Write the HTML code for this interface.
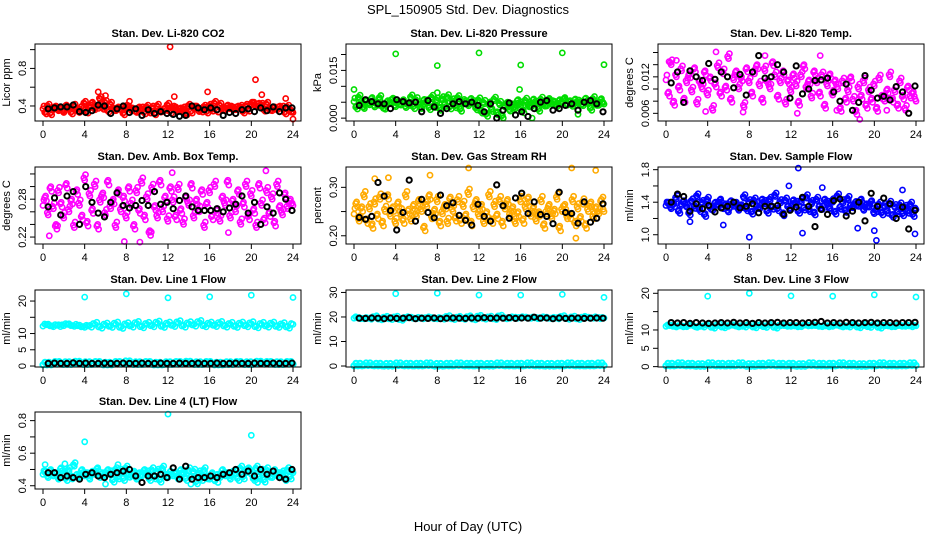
<!DOCTYPE html>
<html><head><meta charset="utf-8"><style>
html,body{margin:0;padding:0;background:#fff}
svg{display:block;font-family:"Liberation Sans",Arial,sans-serif}
</style></head><body>
<svg id="c" width="936" height="540" viewBox="0 0 936 540">
<text x="468" y="14" font-size="13" text-anchor="middle">SPL_150905  Std. Dev. Diagnostics</text>
<text x="468" y="531" font-size="13" text-anchor="middle">Hour of Day (UTC)</text>
</svg>
<script>
const hourTicks=[0,4,8,12,16,20,24];
const co2Cloud=[0.37,0.34,0.39,0.33,0.36,0.40,0.35,0.38,0.33,0.41,0.36,0.34,0.39,0.37,0.33,0.40,0.42,0.35,0.38,0.44,0.36,0.40,0.47,0.39,0.43,0.36,0.41,0.38,0.35,0.39,0.36,0.33,0.38,0.40,0.35,0.37,0.33,0.39,0.36,0.34,0.38,0.35,0.37,0.33,0.39,0.36,0.34,0.38,0.40,0.35,0.37,0.39,0.34,0.38,0.36,0.33,0.39,0.35,0.37,0.40,0.34,0.36,0.38,0.35,0.39,0.37,0.42,0.36,0.40,0.38,0.35,0.41,0.37,0.39,0.36,0.40,0.38,0.35,0.39,0.37,0.41,0.44,0.39,0.43,0.40,0.37,0.41,0.38,0.35,0.39,0.36,0.40,0.37,0.34,0.38,0.36,0.33];
const co2Black=[0.37,0.38,0.39,0.39,0.41,0.34,0.33,0.35,0.41,0.40,0.32,0.37,0.40,0.33,0.37,0.30,0.36,0.32,0.34,0.32,0.31,0.29,0.30,0.40,0.38,0.36,0.38,0.36,0.30,0.33,0.32,0.36,0.37,0.34,0.38,0.35,0.39,0.34,0.38,0.38];
const co2Out=[[12.2,1.03],[20.4,0.68],[5.3,0.55],[15.8,0.55],[12.6,0.50],[24,0.26],[21,0.52],[6,0.51],[8.3,0.45],[23.3,0.48]];
const pressCloud=[0.0052,0.0038,0.0061,0.0045,0.0030,0.0056,0.0042,0.0065,0.0035,0.0050,0.0060,0.0040,0.0028,0.0055,0.0047,0.0063,0.0036,0.0052,0.0041,0.0058,0.0033,0.0049,0.0062,0.0039,0.0054,0.0044,0.0030,0.0059,0.0047,0.0036,0.0061,0.0043,0.0052,0.0034,0.0057,0.0046,0.0063,0.0038,0.0050,0.0042,0.0060,0.0031,0.0048,0.0055,0.0039,0.0062,0.0044,0.0035,0.0053,0.0025,0.0045,0.0015,0.0040,0.0030,0.0055,0.0020,0.0042,0.0010,0.0035,0.0050,0.0022,0.0045,0.0030,0.0058,0.0040,0.0026,0.0052,0.0045,0.0035,0.0060,0.0042,0.0031,0.0055,0.0047,0.0038,0.0062,0.0044,0.0053,0.0036,0.0058,0.0048,0.0065,0.0041,0.0055,0.0037,0.0060,0.0046,0.0052,0.0039,0.0063,0.0045,0.0034,0.0057,0.0049,0.0040,0.0061,0.0044];
const pressBlack=[0.0040,0.0058,0.0052,0.0045,0.0045,0.0030,0.0058,0.0052,0.0048,0.0050,0.0020,0.0055,0.0035,0.0015,0.0030,0.0045,0.0052,0.0045,0.0050,0.0040,0.0020,0.0045,0.0000,0.0025,0.0048,0.0010,0.0020,0.0005,0.0030,0.0050,0.0055,0.0025,0.0030,0.0040,0.0045,0.0025,0.0050,0.0055,0.0045,0.0020];
const pressOut=[[4,0.0202],[12,0.0205],[20,0.0205],[8,0.0165],[16,0.0167],[24,0.0168],[0,0.0090],[8,0.0080],[15.9,0.0090],[17.1,0.0000],[21.5,0.0012]];
const tempCloud=[0.0115,0.0095,0.0140,0.0080,0.0120,0.0105,0.0130,0.0085,0.0110,0.0125,0.0095,0.0135,0.0075,0.0115,0.0100,0.0130,0.0090,0.0120,0.0065,0.0110,0.0135,0.0095,0.0125,0.0105,0.0150,0.0085,0.0115,0.0130,0.0100,0.0120,0.0070,0.0135,0.0110,0.0095,0.0125,0.0140,0.0105,0.0085,0.0130,0.0115,0.0100,0.0145,0.0120,0.0090,0.0110,0.0130,0.0075,0.0115,0.0095,0.0125,0.0105,0.0080,0.0120,0.0140,0.0100,0.0115,0.0085,0.0130,0.0110,0.0095,0.0120,0.0075,0.0105,0.0125,0.0090,0.0115,0.0100,0.0070,0.0110,0.0085,0.0095,0.0120,0.0080,0.0065,0.0100,0.0090,0.0110,0.0075,0.0095,0.0085,0.0105,0.0070,0.0115,0.0090,0.0080,0.0100,0.0120,0.0085,0.0095,0.0075,0.0110,0.0090,0.0065,0.0105,0.0085,0.0095,0.0080];
const tempBlack=[0.0110,0.0128,0.0078,0.0130,0.0120,0.0114,0.0142,0.0116,0.0128,0.0120,0.0102,0.0124,0.0090,0.0128,0.0155,0.0118,0.0120,0.0140,0.0128,0.0085,0.0138,0.0092,0.0100,0.0114,0.0115,0.0118,0.0095,0.0080,0.0108,0.0065,0.0078,0.0122,0.0098,0.0085,0.0088,0.0082,0.0104,0.0095,0.0060,0.0105];
const tempOut=[[0.3,0.0145],[1,0.0147],[4.8,0.0161],[7.4,0.0062],[9.5,0.0155],[14.8,0.0155],[16.4,0.0065],[18.6,0.0050],[21.2,0.0065],[12.6,0.0060],[3.8,0.0063]];
const ambCloud=[0.270,0.285,0.255,0.300,0.265,0.240,0.290,0.275,0.250,0.305,0.260,0.280,0.235,0.295,0.270,0.255,0.310,0.245,0.285,0.265,0.300,0.240,0.275,0.290,0.255,0.310,0.265,0.280,0.235,0.295,0.260,0.285,0.250,0.300,0.270,0.240,0.290,0.265,0.305,0.255,0.280,0.230,0.295,0.270,0.250,0.310,0.260,0.285,0.245,0.300,0.275,0.255,0.295,0.265,0.240,0.285,0.270,0.305,0.250,0.280,0.260,0.295,0.235,0.275,0.290,0.255,0.300,0.265,0.245,0.285,0.270,0.310,0.250,0.280,0.260,0.295,0.240,0.275,0.300,0.255,0.285,0.265,0.235,0.305,0.270,0.250,0.290,0.260,0.280,0.245,0.300,0.270,0.255,0.290,0.265,0.280,0.270];
const ambBlack=[0.268,0.282,0.255,0.285,0.292,0.240,0.300,0.275,0.258,0.252,0.275,0.290,0.270,0.266,0.270,0.278,0.270,0.292,0.272,0.275,0.265,0.278,0.285,0.268,0.262,0.262,0.262,0.265,0.260,0.266,0.272,0.285,0.258,0.275,0.240,0.268,0.258,0.290,0.280,0.262];
const ambOut=[[0.6,0.222],[7.8,0.213],[9.3,0.212],[12.4,0.322],[21.4,0.325],[10.4,0.228],[17.8,0.227],[1.4,0.238]];
const rhCloud=[0.245,0.270,0.230,0.260,0.280,0.235,0.255,0.225,0.265,0.245,0.275,0.230,0.250,0.285,0.240,0.260,0.225,0.270,0.245,0.235,0.280,0.255,0.230,0.265,0.240,0.275,0.250,0.220,0.260,0.285,0.235,0.255,0.270,0.230,0.245,0.265,0.225,0.280,0.250,0.240,0.270,0.235,0.260,0.245,0.285,0.230,0.255,0.275,0.240,0.265,0.225,0.250,0.280,0.235,0.260,0.245,0.270,0.230,0.255,0.275,0.240,0.260,0.225,0.250,0.270,0.235,0.255,0.280,0.240,0.260,0.230,0.250,0.270,0.225,0.245,0.265,0.235,0.255,0.275,0.220,0.250,0.265,0.235,0.245,0.270,0.230,0.255,0.240,0.265,0.225,0.250,0.270,0.235,0.260,0.245,0.275,0.250];
const rhBlack=[0.238,0.234,0.240,0.310,0.282,0.252,0.212,0.248,0.315,0.230,0.275,0.248,0.237,0.284,0.262,0.268,0.242,0.232,0.222,0.265,0.240,0.230,0.305,0.262,0.236,0.278,0.288,0.246,0.270,0.244,0.240,0.225,0.290,0.248,0.246,0.226,0.270,0.228,0.236,0.266];
const rhOut=[[2,0.318],[3.3,0.320],[7.3,0.325],[11,0.340],[20.9,0.340],[23.2,0.335],[21.3,0.195],[23.9,0.280]];
const sfCloud=[1.36,1.40,1.32,1.38,1.44,1.30,1.36,1.42,1.34,1.28,1.40,1.36,1.46,1.32,1.38,1.26,1.42,1.35,1.30,1.40,1.36,1.44,1.32,1.38,1.28,1.42,1.35,1.40,1.30,1.37,1.45,1.33,1.39,1.29,1.41,1.36,1.32,1.44,1.38,1.30,1.42,1.35,1.47,1.33,1.39,1.27,1.41,1.36,1.31,1.43,1.37,1.30,1.40,1.34,1.45,1.32,1.38,1.28,1.42,1.36,1.31,1.44,1.37,1.33,1.40,1.29,1.46,1.35,1.39,1.31,1.43,1.37,1.33,1.41,1.35,1.44,1.30,1.38,1.34,1.42,1.26,1.32,1.36,1.28,1.34,1.30,1.37,1.25,1.33,1.29,1.35,1.27,1.32,1.30,1.36,1.26,1.31];
const sfBlack=[1.40,1.50,1.47,1.29,1.38,1.32,1.36,1.28,1.33,1.35,1.40,1.33,1.35,1.38,1.27,1.35,1.35,1.36,1.25,1.30,1.34,1.46,1.35,1.10,1.31,1.25,1.42,1.44,1.23,1.29,1.40,1.17,1.51,1.35,1.45,1.38,1.20,1.34,1.07,1.30];
const sfOut=[[12.7,1.82],[8,0.97],[20.2,0.93],[5.5,1.12],[13.1,1.02],[11.8,1.60],[15,1.58],[2.3,1.16],[20,1.05],[23.9,1.01],[18.4,1.08],[22.7,1.55]];
const l1High=[12.3,12.9,12.1,12.7,12.4,13.0,12.2,12.6,11.9,12.5,12.8,12.2,12.6,12.4,12.9,12.1,12.7,12.5,13.1,12.3,12.8,12.6,13.2,12.4,12.9,12.7,13.3,12.5,13.0,12.8,13.4,12.6,12.9,12.7,13.1,12.5,12.8,12.4,12.9,12.6,13.0,12.3,12.8,12.5,12.9,12.4,12.7,12.2,12.8];
const l1Low=[0.7,0.9,0.8,1.0,0.8,0.9,0.7,0.9,1.1,0.8,0.9,0.7,0.8,0.9,1.0,0.8,0.9,0.7,0.8,0.9,0.8,1.0,0.9,0.8,0.9];
const l1Black=[0.8,0.9,0.8,0.8,1.0,0.8,0.9,0.8,0.8,0.9,0.8,0.8,0.9,0.8,0.8,0.9,0.8,0.8,0.9,0.8,0.8,0.9,0.8,0.8,0.9,0.8,0.8,0.9,0.8,0.8,0.9,0.8,0.8,0.9,0.8,0.8,0.9,0.8,0.8,0.9];
const l1Out=[[4,21.2],[8,22.2],[12,21.0],[16,21.3],[20,21.8],[24,21.1]];
const l2High=[19.5,19.8,19.2,19.6,19.9,19.3,19.7,19.4,19.8,19.1,19.6,19.9,19.3,19.7,19.5,19.8,19.2,19.6,20.0,19.4,19.7,19.5,19.9,19.3,20.1,19.6,19.8,19.4,20.2,19.7,19.5,19.9,19.6,20.0,19.4,19.8,19.5,19.9,19.3,19.7,20.0,19.5,19.8,19.4,19.7,19.9,19.5,19.8,19.6];
const l2Low=[0.5,0.6,0.5,0.4,0.6,0.5,0.5,0.6,0.4,0.5,0.6,0.5,0.5,0.4,0.6,0.5,0.5,0.6,0.5,0.4,0.5,0.6,0.5,0.5,0.6];
const l2Black=[19.5,19.4,19.6,19.5,19.3,19.6,19.4,19.5,19.7,19.3,19.5,19.4,19.6,19.3,19.5,19.6,19.5,19.4,19.6,19.5,19.7,19.5,19.6,19.5,19.7,19.4,19.6,19.5,19.9,19.5,19.6,19.3,19.6,19.4,19.5,19.6,19.4,19.5,19.6,19.5];
const l2Out=[[4,29.5],[8,29.7],[12,28.9],[16,28.9],[20,29.2],[24,28.0]];
const l3High=[11.0,11.3,10.8,11.2,10.9,11.4,10.7,11.1,11.3,10.8,11.2,10.9,11.0,11.4,10.8,11.1,11.3,10.9,11.2,11.0,11.4,10.8,11.1,11.3,11.0,11.2,10.9,11.4,11.1,11.3,10.9,11.2,11.0,11.4,10.8,11.1,11.3,10.9,11.2,11.0,11.3,10.8,11.1,11.2,10.9,11.3,11.0,11.2,11.1];
const l3Low=[0.5,0.6,0.5,0.4,0.6,0.5,0.5,0.6,0.4,0.5,0.6,0.5,0.5,0.4,0.6,0.5,0.5,0.6,0.5,0.4,0.5,0.6,0.5,0.5,0.6];
const l3Black=[12.0,11.9,12.0,11.8,12.0,11.9,11.8,11.9,12.0,11.9,12.1,11.9,12.0,11.8,12.0,11.9,12.0,12.1,11.9,12.0,12.0,11.9,12.0,12.1,12.3,11.9,12.0,11.9,12.1,12.0,11.9,12.0,12.1,11.9,12.0,12.0,11.9,12.0,12.0,12.1];
const l3Out=[[4,19.2],[8,20.0],[12,19.3],[16,19.2],[20,19.6],[24,19.0]];
const l4Cloud=[0.47,0.49,0.45,0.50,0.46,0.48,0.44,0.51,0.47,0.45,0.49,0.46,0.52,0.47,0.45,0.50,0.46,0.48,0.44,0.49,0.47,0.51,0.45,0.48,0.46,0.50,0.47,0.44,0.49,0.46,0.48,0.45,0.50,0.47,0.46,0.49,0.44,0.48,0.46,0.50,0.47,0.45,0.49,0.46,0.48,0.44,0.50,0.47,0.45,0.49,0.46,0.48,0.44,0.50,0.47,0.45,0.49,0.46,0.48,0.43,0.47,0.45,0.49,0.46,0.44,0.48,0.43,0.47,0.45,0.50,0.46,0.48,0.44,0.49,0.47,0.45,0.50,0.46,0.48,0.51,0.47,0.45,0.50,0.46,0.48,0.44,0.49,0.47,0.45,0.50,0.46,0.48,0.47,0.45,0.49,0.46,0.48];
const l4Black=[0.48,0.48,0.45,0.46,0.45,0.44,0.47,0.48,0.46,0.45,0.47,0.48,0.49,0.50,0.46,0.42,0.46,0.46,0.47,0.45,0.51,0.44,0.52,0.44,0.45,0.45,0.46,0.45,0.47,0.48,0.50,0.47,0.49,0.46,0.50,0.47,0.49,0.45,0.44,0.50];
const l4Out=[[0.2,0.53],[2.1,0.535],[4,0.67],[12,0.84],[20,0.71],[6,0.41],[14.2,0.41],[20.6,0.42],[16.8,0.42],[7.2,0.53]];

const svg=document.getElementById('c');
const NS='http://www.w3.org/2000/svg';
function mk(tag,attrs,parent){const e=document.createElementNS(NS,tag);for(const k in attrs)e.setAttribute(k,attrs[k]);(parent||svg).appendChild(e);return e;}
const rowTop=[44,167,290,412], BH=77, colOff=[0,311,623];
const panels=[
 {key:'co2',title:'Stan. Dev. Li-820 CO2',ylab:'Licor ppm',r:0,c:0,ymin:0.24,ymax:1.06,ticks:[0.4,0.6,0.8,1.0],labels:['0.4','0.8'],col:'#ff0000',jit:4,clouds:[co2Cloud],lows:[],black:co2Black,out:co2Out},
 {key:'pressure',title:'Stan. Dev. Li-820 Pressure',ylab:'kPa',r:0,c:1,ymin:-0.0009,ymax:0.0233,ticks:[0,0.005,0.01,0.015,0.02],labels:['0.000','0.015'],col:'#00dd00',jit:5,clouds:[pressCloud],lows:[],black:pressBlack,out:pressOut},
 {key:'temp',title:'Stan. Dev. Li-820 Temp.',ylab:'degrees C',r:0,c:2,ymin:0.00474,ymax:0.0174,ticks:[0.006,0.008,0.010,0.012,0.014,0.016],labels:['0.006','0.012'],col:'#ff00ff',jit:7,clouds:[tempCloud],lows:[],black:tempBlack,out:tempOut},
 {key:'amb',title:'Stan. Dev. Amb. Box Temp.',ylab:'degrees C',r:1,c:0,ymin:0.209,ymax:0.331,ticks:[0.22,0.24,0.26,0.28,0.30,0.32],labels:['0.22','0.28'],col:'#ff00ff',jit:8,clouds:[ambCloud],lows:[],black:ambBlack,out:ambOut},
 {key:'rh',title:'Stan. Dev. Gas Stream RH',ylab:'percent',r:1,c:1,ymin:0.183,ymax:0.342,ticks:[0.20,0.25,0.30],labels:['0.20','0.30'],col:'#ffaa00',jit:8,clouds:[rhCloud],lows:[],black:rhBlack,out:rhOut},
 {key:'sample',title:'Stan. Dev. Sample Flow',ylab:'ml/min',r:1,c:2,ymin:0.886,ymax:1.833,ticks:[1.0,1.2,1.4,1.6,1.8],labels:['1.0','1.4','1.8'],col:'#0000ff',jit:5,clouds:[sfCloud],lows:[],black:sfBlack,out:sfOut},
 {key:'line1',title:'Stan. Dev. Line 1 Flow',ylab:'ml/min',r:2,c:0,ymin:-0.3,ymax:23.4,ticks:[0,5,10,15,20],labels:['0','5','10','','20'],col:'#00ffff',jit:3,clouds:[l1High],lows:[l1Low],black:l1Black,out:l1Out},
 {key:'line2',title:'Stan. Dev. Line 2 Flow',ylab:'ml/min',r:2,c:1,ymin:-0.4,ymax:31,ticks:[0,10,20,30],labels:['0','10','20','30'],col:'#00ffff',jit:2,clouds:[l2High],lows:[l2Low],black:l2Black,out:l2Out},
 {key:'line3',title:'Stan. Dev. Line 3 Flow',ylab:'ml/min',r:2,c:2,ymin:-0.1,ymax:20.9,ticks:[0,5,10,15,20],labels:['0','5','10','','20'],col:'#00ffff',jit:2,clouds:[l3High],lows:[l3Low],black:l3Black,out:l3Out},
 {key:'line4',title:'Stan. Dev. Line 4 (LT) Flow',ylab:'ml/min',r:3,c:0,ymin:0.38,ymax:0.853,ticks:[0.4,0.5,0.6,0.7,0.8],labels:['0.4','','0.6','','0.8'],col:'#00ffff',jit:5,clouds:[l4Cloud],lows:[],black:l4Black,out:l4Out}
];
const spreadPattern=[-1,0.6,-0.3,1,-0.7,0.2];
function pt(g,x,y,color,w,name){
 const e=mk('circle',{cx:x.toFixed(1),cy:y.toFixed(1),r:2.6,fill:'none',stroke:color,'stroke-width':w},g);
 
 
}
panels.forEach(p=>{
 const L=35+colOff[p.c], R=301+colOff[p.c], T=rowTop[p.r], B=T+BH;
 const xs=h=>L+8+h*(R-L-16)/24;
 const ys=v=>B-(v-p.ymin)/(p.ymax-p.ymin)*(B-T);
 const g=mk('g',{});
 
 
 const t=mk('text',{x:(L+R)/2,y:T-7,'font-size':11,'font-weight':'bold','text-anchor':'middle'},g);t.textContent=p.title;
 
 
 const yl=mk('text',{transform:`translate(${L-25},${(T+B)/2}) rotate(-90)`,'font-size':11,'text-anchor':'middle'},g);yl.textContent=p.ylab;
 
 
 // dense cloud: each value drawn as a small cluster (visual density only)
 p.clouds.forEach(arr=>{
  const step=24/(arr.length-1);
  arr.forEach((v,i)=>{
   for(let k=-1;k<=1;k++){
    let h=i*step+k*step/3; if(h<0||h>24) continue;
    const off=spreadPattern[(i*3+k+3)%spreadPattern.length]*p.jit;
    pt(g,xs(h),ys(v)+(k===0?0:off),p.col,1.6,'cloud-point');
   }
  });
 });
 p.lows.forEach(arr=>arr.forEach((v,i)=>{for(let k=0;k<5;k++){pt(g,xs((i*5+k)*24/(arr.length*5-1)),ys(v)+(k%2?-1.5:1),p.col,2,'low-point');}}));
 p.out.forEach(o=>pt(g,xs(o[0]),ys(o[1]),p.col,1.6,'outlier-point'));
 p.black.forEach((v,i)=>pt(g,xs(0.5+i*23.4/(p.black.length-1)),ys(v),'#000',2,'black-point'));
 const bx=mk('rect',{x:L,y:T,width:R-L,height:B-T,fill:'none',stroke:'#000','stroke-width':1},g);
 
 
 mk('line',{x1:xs(0),x2:xs(24),y1:B,y2:B,stroke:'#000'},g);
 hourTicks.forEach(h=>{
  mk('line',{x1:xs(h),x2:xs(h),y1:B,y2:B+5,stroke:'#000'},g);
  const tx=mk('text',{x:xs(h),y:B+17,'font-size':11,'text-anchor':'middle'},g);tx.textContent=h;
  
  
 });
 mk('line',{x1:L,x2:L,y1:ys(p.ticks[0]),y2:ys(p.ticks[p.ticks.length-1]),stroke:'#000'},g);
 p.ticks.forEach((v,i)=>{
  mk('line',{x1:L-5,x2:L,y1:ys(v),y2:ys(v),stroke:'#000'},g);
  let txt=p.labels.length===p.ticks.length?p.labels[i]:(p.labels.find(s=>Math.abs(parseFloat(s)-v)<1e-9)||'');
  if(txt){const ty=mk('text',{transform:`translate(${L-9},${ys(v)}) rotate(-90)`,'font-size':11,'text-anchor':'middle'},g);ty.textContent=txt;
   
   }
 });
});
</script>
</body></html>
